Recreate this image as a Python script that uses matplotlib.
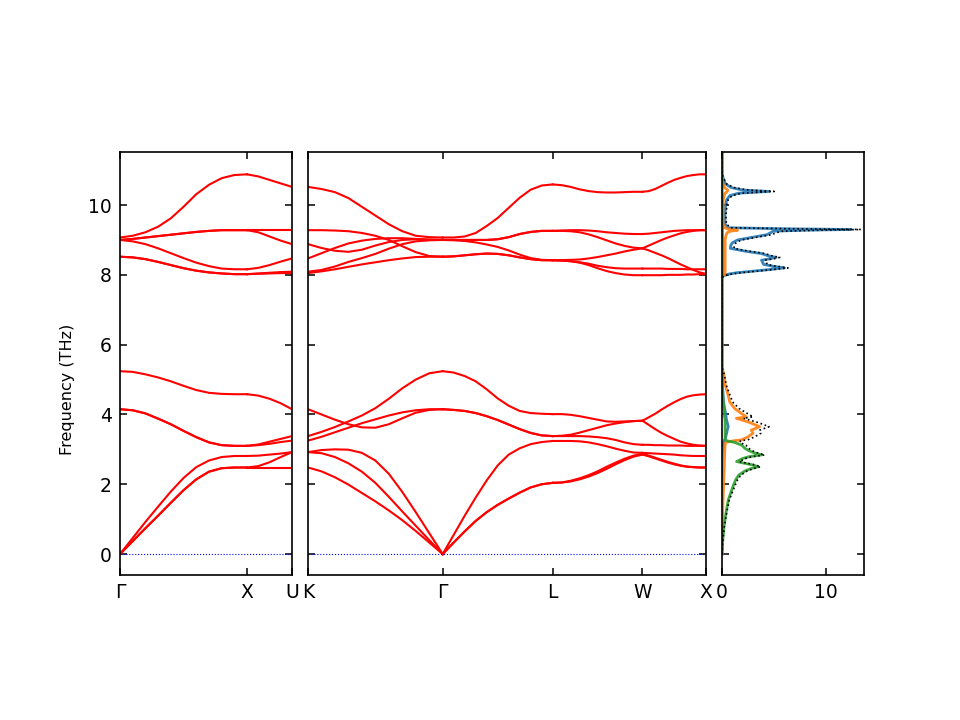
import numpy as np
import matplotlib
matplotlib.use('Agg')
import matplotlib.pyplot as plt

# ---------------- path description (fcc) ----------------
left_labels = ['Γ', 'X', 'U']
mid_labels = ['K', 'Γ', 'L', 'W', 'X']
seg_len_left = [1.0, 0.3536]                 # Γ-X, X-U
seg_len_mid = [1.0607, 0.8660, 0.7071, 0.5]  # K-Γ, Γ-L, L-W, W-X

q11 = [0.0, 0.1, 0.2, 0.3, 0.4, 0.5, 0.6, 0.7, 0.8, 0.9, 1.0]
q5 = [0.0, 0.25, 0.5, 0.75, 1.0]

# ---------------- band frequencies (THz) ----------------
bands_G_X = [
    [9.07, 9.12, 9.22, 9.38, 9.62, 9.95, 10.31, 10.58, 10.77, 10.86, 10.88],
    [9.00, 9.03, 9.07, 9.11, 9.15, 9.19, 9.23, 9.26, 9.28, 9.28, 9.28],
    [9.00, 9.03, 9.07, 9.11, 9.15, 9.19, 9.23, 9.26, 9.28, 9.28, 9.28],
    [9.00, 8.96, 8.88, 8.76, 8.62, 8.48, 8.35, 8.25, 8.18, 8.16, 8.16],
    [8.52, 8.50, 8.45, 8.37, 8.28, 8.19, 8.12, 8.07, 8.04, 8.02, 8.02],
    [8.52, 8.50, 8.45, 8.37, 8.28, 8.19, 8.12, 8.07, 8.04, 8.02, 8.02],
    [5.24, 5.22, 5.15, 5.06, 4.95, 4.82, 4.70, 4.62, 4.59, 4.58, 4.58],
    [4.15, 4.12, 4.03, 3.88, 3.72, 3.53, 3.35, 3.20, 3.12, 3.10, 3.10],
    [4.15, 4.12, 4.03, 3.88, 3.72, 3.53, 3.35, 3.20, 3.12, 3.10, 3.10],
    [0.00, 0.46, 0.92, 1.36, 1.79, 2.18, 2.49, 2.68, 2.78, 2.81, 2.81],
    [0.00, 0.37, 0.74, 1.10, 1.47, 1.83, 2.14, 2.36, 2.46, 2.48, 2.48],
    [0.00, 0.37, 0.74, 1.10, 1.47, 1.83, 2.14, 2.36, 2.46, 2.48, 2.48],
]

bands_X_U = [
    [10.88, 10.82, 10.72, 10.62, 10.52],
    [9.28, 9.28, 9.28, 9.28, 9.28],
    [9.28, 9.22, 9.10, 8.98, 8.88],
    [8.16, 8.20, 8.28, 8.38, 8.47],
    [8.02, 8.04, 8.06, 8.08, 8.09],
    [8.02, 8.03, 8.04, 8.05, 8.05],
    [4.58, 4.54, 4.45, 4.32, 4.15],
    [3.10, 3.14, 3.22, 3.30, 3.38],
    [3.10, 3.12, 3.16, 3.21, 3.25],
    [2.81, 2.82, 2.85, 2.88, 2.92],
    [2.48, 2.52, 2.63, 2.78, 2.92],
    [2.48, 2.48, 2.48, 2.48, 2.48],
]

bands_K_G = [
    [10.52, 10.46, 10.37, 10.20, 9.95, 9.70, 9.45, 9.25, 9.12, 9.08, 9.07],
    [9.28, 9.28, 9.27, 9.25, 9.20, 9.12, 9.00, 8.82, 8.65, 8.54, 8.52],
    [8.88, 8.77, 8.69, 8.66, 8.72, 8.84, 8.94, 9.00, 9.02, 9.01, 9.00],
    [8.47, 8.62, 8.77, 8.90, 8.98, 9.03, 9.05, 9.05, 9.03, 9.01, 9.00],
    [8.09, 8.14, 8.24, 8.37, 8.48, 8.60, 8.75, 8.88, 8.96, 8.99, 9.00],
    [8.05, 8.10, 8.16, 8.23, 8.30, 8.36, 8.42, 8.47, 8.51, 8.52, 8.52],
    [3.38, 3.50, 3.64, 3.80, 3.97, 4.18, 4.45, 4.75, 5.00, 5.18, 5.24],
    [4.15, 4.00, 3.85, 3.72, 3.63, 3.62, 3.72, 3.89, 4.05, 4.13, 4.15],
    [3.25, 3.36, 3.49, 3.62, 3.75, 3.86, 3.97, 4.06, 4.12, 4.15, 4.15],
    [2.92, 2.98, 3.00, 2.99, 2.90, 2.68, 2.30, 1.78, 1.20, 0.60, 0.00],
    [2.92, 2.89, 2.78, 2.60, 2.36, 2.04, 1.64, 1.22, 0.81, 0.40, 0.00],
    [2.48, 2.37, 2.20, 1.99, 1.75, 1.51, 1.25, 0.97, 0.66, 0.33, 0.00],
]

bands_G_L = [
    [9.07, 9.07, 9.10, 9.20, 9.40, 9.63, 9.92, 10.21, 10.44, 10.56, 10.59],
    [9.00, 9.00, 9.00, 9.00, 9.00, 9.02, 9.08, 9.17, 9.23, 9.26, 9.26],
    [9.00, 9.00, 9.00, 9.00, 9.00, 9.02, 9.08, 9.17, 9.23, 9.26, 9.26],
    [9.00, 8.99, 8.97, 8.93, 8.87, 8.80, 8.70, 8.58, 8.48, 8.43, 8.42],
    [8.52, 8.53, 8.56, 8.59, 8.61, 8.60, 8.56, 8.50, 8.45, 8.42, 8.42],
    [8.52, 8.53, 8.56, 8.59, 8.61, 8.60, 8.56, 8.50, 8.45, 8.42, 8.42],
    [5.24, 5.20, 5.10, 4.95, 4.72, 4.46, 4.25, 4.10, 4.04, 4.02, 4.01],
    [4.15, 4.13, 4.10, 4.04, 3.95, 3.84, 3.71, 3.58, 3.47, 3.40, 3.38],
    [4.15, 4.13, 4.10, 4.04, 3.95, 3.84, 3.71, 3.58, 3.47, 3.40, 3.38],
    [0.00, 0.55, 1.10, 1.62, 2.11, 2.54, 2.85, 3.03, 3.15, 3.21, 3.24],
    [0.00, 0.33, 0.65, 0.95, 1.20, 1.41, 1.59, 1.76, 1.91, 2.00, 2.04],
    [0.00, 0.33, 0.65, 0.95, 1.20, 1.41, 1.59, 1.76, 1.91, 2.00, 2.04],
]

bands_L_W = [
    [10.59, 10.57, 10.52, 10.45, 10.40, 10.37, 10.36, 10.36, 10.37, 10.38, 10.38],
    [9.26, 9.27, 9.28, 9.28, 9.27, 9.25, 9.22, 9.20, 9.18, 9.17, 9.17],
    [9.26, 9.26, 9.25, 9.22, 9.16, 9.08, 8.99, 8.90, 8.83, 8.78, 8.76],
    [8.42, 8.42, 8.43, 8.44, 8.47, 8.51, 8.56, 8.61, 8.67, 8.72, 8.76],
    [8.42, 8.41, 8.39, 8.36, 8.32, 8.26, 8.22, 8.19, 8.18, 8.18, 8.18],
    [8.42, 8.41, 8.39, 8.35, 8.28, 8.19, 8.11, 8.05, 8.01, 7.99, 7.99],
    [4.01, 4.01, 3.99, 3.95, 3.90, 3.85, 3.80, 3.79, 3.80, 3.81, 3.82],
    [3.38, 3.39, 3.42, 3.48, 3.55, 3.62, 3.69, 3.74, 3.78, 3.81, 3.82],
    [3.38, 3.38, 3.38, 3.38, 3.37, 3.35, 3.32, 3.27, 3.20, 3.15, 3.13],
    [3.24, 3.24, 3.24, 3.23, 3.20, 3.15, 3.09, 3.02, 2.96, 2.91, 2.90],
    [2.04, 2.05, 2.10, 2.17, 2.26, 2.37, 2.50, 2.62, 2.73, 2.82, 2.87],
    [2.04, 2.05, 2.08, 2.14, 2.22, 2.32, 2.44, 2.57, 2.69, 2.79, 2.85],
]

bands_W_X = [
    [10.38, 10.40, 10.46, 10.55, 10.64, 10.72, 10.78, 10.83, 10.86, 10.88, 10.88],
    [9.17, 9.18, 9.20, 9.22, 9.24, 9.26, 9.27, 9.28, 9.28, 9.28, 9.28],
    [8.76, 8.84, 8.92, 9.00, 9.07, 9.13, 9.19, 9.23, 9.26, 9.28, 9.28],
    [8.76, 8.70, 8.63, 8.56, 8.48, 8.39, 8.30, 8.22, 8.14, 8.07, 8.03],
    [8.18, 8.18, 8.18, 8.18, 8.17, 8.17, 8.17, 8.16, 8.16, 8.16, 8.16],
    [7.99, 7.99, 7.99, 7.99, 8.00, 8.00, 8.00, 8.01, 8.01, 8.02, 8.02],
    [3.82, 3.92, 4.02, 4.14, 4.25, 4.35, 4.44, 4.51, 4.55, 4.57, 4.58],
    [3.82, 3.70, 3.58, 3.47, 3.38, 3.30, 3.22, 3.17, 3.13, 3.11, 3.10],
    [3.13, 3.13, 3.12, 3.12, 3.11, 3.11, 3.11, 3.10, 3.10, 3.10, 3.10],
    [2.90, 2.89, 2.88, 2.87, 2.86, 2.85, 2.83, 2.82, 2.81, 2.81, 2.81],
    [2.87, 2.82, 2.76, 2.70, 2.64, 2.59, 2.54, 2.51, 2.49, 2.48, 2.48],
    [2.85, 2.80, 2.74, 2.68, 2.62, 2.57, 2.53, 2.50, 2.49, 2.48, 2.48],
]

# ---------------- projected DOS ----------------
dos_freq = [0.0, 0.3, 0.78, 1.17, 1.55, 1.93, 2.12, 2.26, 2.38, 2.45, 2.50, 2.55, 2.60,
            2.65, 2.74, 2.79, 2.84, 2.91, 2.96, 3.03, 3.12, 3.20, 3.25, 3.27, 3.36, 3.46,
            3.55, 3.65, 3.77, 3.89, 3.93, 4.03, 4.17, 4.36, 4.56, 4.84, 5.13, 5.35,
            7.90, 7.97, 8.02, 8.06, 8.10, 8.15, 8.20, 8.25, 8.30, 8.36, 8.42, 8.46, 8.50,
            8.55, 8.61, 8.68, 8.76, 8.85, 8.92, 9.00, 9.08, 9.15, 9.21, 9.25, 9.28, 9.30,
            9.32, 9.35, 9.45, 9.70, 10.00, 10.15, 10.27, 10.34, 10.39, 10.43, 10.50,
            10.60, 10.70, 10.80, 10.90, 11.50]
dos_blue = [0, 0, 0, 0, 0, 0.01, 0.01, 0.02, 0.02, 0.02, 0.03, 0.03, 0.03,
            0.03, 0.04, 0.04, 0.05, 0.05, 0.06, 0.08, 0.10, 0.15, 0.20, 0.25, 0.35, 0.45,
            0.50, 0.60, 0.50, 0.40, 0.40, 0.35, 0.25, 0.15, 0.10, 0.05, 0.02, 0,
            0, 0.10, 0.60, 1.40, 2.80, 4.50, 6.00, 4.80, 4.00, 3.90, 3.80, 4.60, 5.20,
            4.40, 3.80, 2.20, 0.80, 0.85, 1.00, 1.50, 3.00, 4.30, 4.70, 4.90, 8.00, 12.40,
            6.00, 0.60, 0.30, 0.28, 0.35, 0.45, 0.75, 1.60, 4.50, 2.00, 0.90,
            0.35, 0.20, 0.08, 0, 0]
dos_orange = [0, 0.01, 0.03, 0.06, 0.10, 0.15, 0.17, 0.19, 0.20, 0.21, 0.22, 0.22, 0.23,
              0.23, 0.24, 0.25, 0.25, 0.26, 0.27, 0.28, 0.30, 0.35, 1.20, 1.86, 2.50, 2.98,
              2.82, 3.62, 2.66, 1.38, 2.34, 1.86, 1.22, 0.74, 0.58, 0.32, 0.19, 0,
              0, 0.05, 0.25, 0.30, 0.30, 0.30, 0.30, 0.30, 0.30, 0.30, 0.30, 0.30, 0.30,
              0.30, 0.30, 0.30, 0.30, 0.30, 0.30, 0.30, 0.35, 0.40, 0.50, 0.80, 1.50, 0.90,
              0.50, 0.25, 0.10, 0.08, 0.10, 0.12, 0.20, 0.30, 0.50, 0.55, 0.25,
              0.10, 0.05, 0.02, 0, 0]
dos_green = [0, 0.05, 0.19, 0.38, 0.60, 1.05, 1.30, 1.60, 2.20, 2.80, 3.46, 3.00, 2.20,
             1.40, 2.00, 2.60, 3.80, 3.00, 2.60, 2.20, 1.90, 1.20, 0.40, 0.35, 0.30, 0.30,
             0.30, 0.30, 0.30, 0.28, 0.25, 0.22, 0.18, 0.12, 0.08, 0.04, 0.02, 0,
             0, 0.01, 0.05, 0.05, 0.05, 0.05, 0.05, 0.05, 0.05, 0.05, 0.05, 0.05, 0.05,
             0.05, 0.05, 0.05, 0.05, 0.05, 0.05, 0.05, 0.05, 0.05, 0.05, 0.05, 0.05, 0.05,
             0.05, 0.05, 0.02, 0.02, 0.02, 0.02, 0.02, 0.02, 0.02, 0.02, 0.02,
             0.02, 0.02, 0.02, 0, 0]

# ---------------- figure ----------------
fig = plt.figure(figsize=(9.6, 7.2), dpi=100)
W, H = 960.0, 720.0
bot, hgt = 145 / H, 423 / H
ax1 = fig.add_axes([120 / W, bot, 172 / W, hgt])
ax2 = fig.add_axes([308 / W, bot, 398 / W, hgt])
ax3 = fig.add_axes([722 / W, bot, 142 / W, hgt])

ylim = (-0.60, 11.52)
band_color = 'red'
band_lw = 1.5


def draw_panel(ax, seg_lengths, seg_data, labels):
    start = 0.0
    ticks = [0.0]
    for L, (q, data) in zip(seg_lengths, seg_data):
        x = start + L * np.asarray(q)
        for band in data:
            ax.plot(x, band, color=band_color, lw=band_lw, solid_joinstyle='round')
        start += L
        ticks.append(start)
    ax.set_xlim(0, start)
    ax.set_ylim(*ylim)
    ax.axhline(0, color='blue', ls=':', lw=0.8)
    ax.set_xticks(ticks)
    ax.set_xticklabels(labels)


draw_panel(ax1, seg_len_left, [(q11, bands_G_X), (q5, bands_X_U)], left_labels)
draw_panel(ax2, seg_len_mid, [(q11, bands_K_G), (q11, bands_G_L),
                              (q11, bands_L_W), (q11, bands_W_X)], mid_labels)

# DOS
tot = np.asarray(dos_blue) + np.asarray(dos_orange) + np.asarray(dos_green)
ax3.plot(dos_blue, dos_freq, color='#1f77b4', lw=2.0, alpha=0.9)
ax3.plot(dos_orange, dos_freq, color='#ff7f0e', lw=2.0, alpha=0.9)
ax3.plot(dos_green, dos_freq, color='#2ca02c', lw=2.0, alpha=0.9)
ax3.plot(tot, dos_freq, color='black', ls=':', lw=1.2)
ax3.set_ylim(*ylim)
ax3.set_xlim(0, 13.65)
ax3.set_xticks([0, 10])

yt = [0, 2, 4, 6, 8, 10]
for ax in (ax1, ax2, ax3):
    ax.set_yticks(yt)
    ax.tick_params(axis='both', which='both', direction='in', length=5, width=1.1,
                   top=True, right=True, labelsize=13.5)
    ax.tick_params(axis='x', pad=5.5)
    ax.tick_params(axis='y', pad=6.0)
    for s in ax.spines.values():
        s.set_linewidth(1.2)
ax2.set_yticklabels([])
ax3.set_yticklabels([])

ax1.set_ylabel('Frequency (THz)', fontsize=11.5)
ax1.yaxis.set_label_coords(-0.26, 0.44)

fig.savefig('out.png', dpi=100)
